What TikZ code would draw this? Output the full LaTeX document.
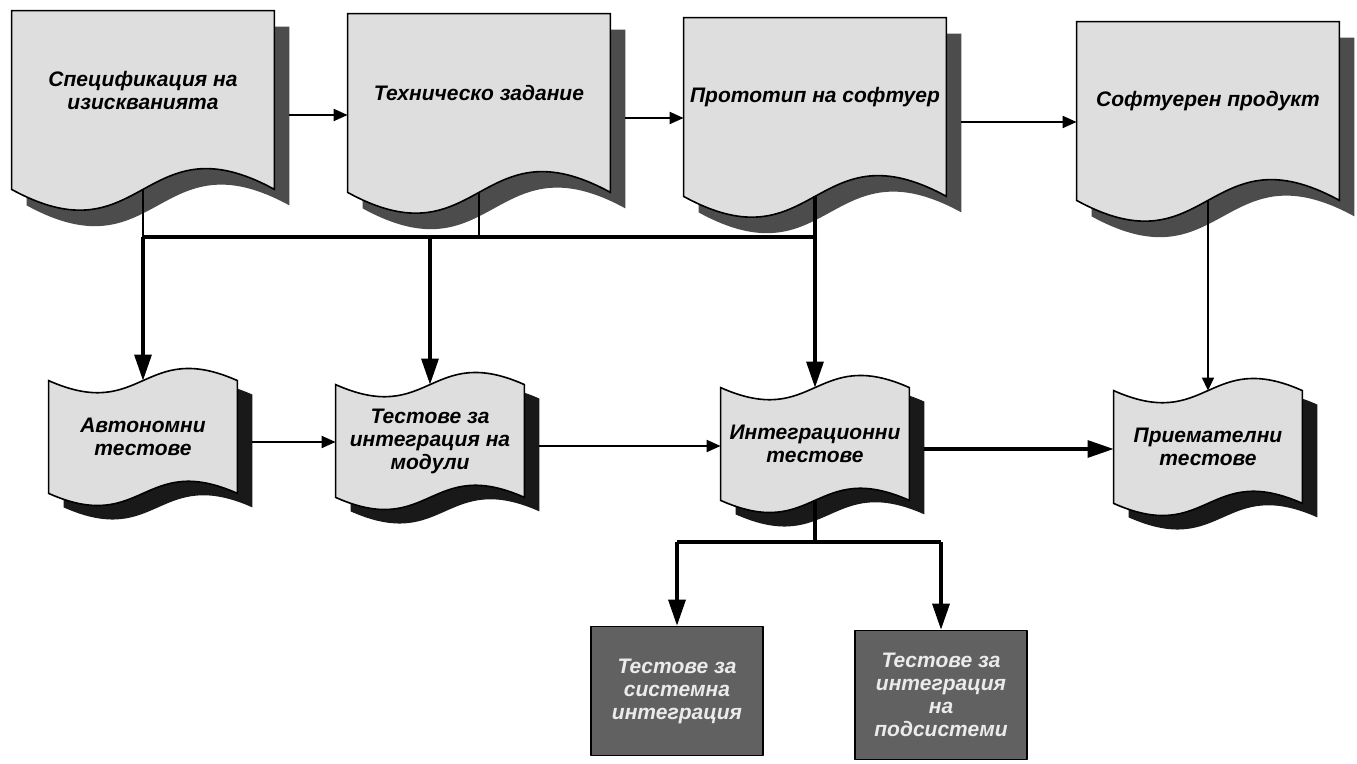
\documentclass[tikz,border=0pt]{standalone}
\usepackage{fontspec}
\setmainfont{Liberation Sans}
\usetikzlibrary{arrows.meta,calc,backgrounds}
\newcommand\docpath[4]{([shift={(#2,#3)}]#1.north west) -- ([shift={(#2,#3)}]#1.north east) -- ([shift={(#2,#3)}]#1.south east) .. controls ([shift={(#2,#3+#4)}]#1.south) and ([shift={(#2,#3-#4)}]#1.south) .. ([shift={(#2,#3)}]#1.south west) -- cycle}
\newcommand\tapepath[4]{([shift={(#2,#3)}]#1.north west) .. controls ([shift={(#2,#3-#4)}]#1.north) and ([shift={(#2,#3+#4)}]#1.north) .. ([shift={(#2,#3)}]#1.north east) -- ([shift={(#2,#3)}]#1.south east) .. controls ([shift={(#2,#3+#4)}]#1.south) and ([shift={(#2,#3-#4)}]#1.south) .. ([shift={(#2,#3)}]#1.south west) -- cycle}
\begin{document}
\begin{tikzpicture}[x=.5pt,y=.5pt,line join=round,
		font=\fontsize{10.5}{11.5}\selectfont\bfseries\itshape,
		docbox/.style={minimum width=131pt,minimum height=89pt,inner sep=0pt},
		tapebox/.style={minimum width=94pt,minimum height=56pt,inner sep=0pt,align=center},
		darkbox/.style={draw,line width=.8pt,fill=black!62,text=black!8,minimum width=86pt,minimum height=64.5pt,inner sep=0pt,align=center},
		toparr/.style={line width=1pt,-{Triangle[length=7pt,width=6pt]}},
		bigarr/.style={line width=1.6pt,-{Triangle[length=13pt,width=8.5pt]}},
		thinarr/.style={line width=.7pt,-{Triangle[length=6.5pt,width=6pt]}},
		bus/.style={line width=1.6pt}]
	\useasboundingbox (0,0) rectangle (1357,-764);
	\node[docbox,label={[align=center,yshift=5pt]center:Спецификация на\\изискванията}] (spec) at (143,-100) {};
	\node[docbox,label={[yshift=5pt]center:Техническо задание}] (tz) at (479,-103) {};
	\node[docbox,label={[yshift=5pt]center:Прототип на софтуер}] (proto) at (815,-107) {};
	\node[docbox,label={[yshift=5pt]center:Софтуерен продукт}] (prod) at (1208,-111) {};
	\node[tapebox] (auto) at (143,-437) {Автономни\\тестове};
	\node[tapebox] (modint) at (430,-441) {Тестове за\\интеграция на\\модули};
	\node[tapebox] (integ) at (815,-444) {Интеграционни\\тестове};
	\node[tapebox] (accept) at (1208,-447) {Приемателни\\тестове};
	\node[darkbox] (sysint) at (677,-691) {Тестове за\\системна\\интеграция};
	\node[darkbox] (subint) at (941,-695) {Тестове за\\интеграция\\на\\подсистеми};
	\begin{scope}[on background layer]
		\fill[white] (0,0) rectangle (1357,-764);
		\foreach \n in {spec,tz,proto,prod}{
			\fill[black!70] \docpath{\n}{15}{-16}{72};
			\draw[line width=.8pt,fill=black!13] \docpath{\n}{0}{0}{72};
		}
		\foreach \n in {auto,modint,integ,accept}{
			\fill[black!90] \tapepath{\n}{15}{-14}{42};
			\draw[line width=.8pt,fill=black!13] \tapepath{\n}{0}{0}{42};
		}
	\end{scope}
	\draw[toparr] ($(spec.east)+(15,-15)$) coordinate (o1) -- (o1 -| tz.west);
	\draw[toparr] ($(tz.east)+(15,-15)$) coordinate (o2) -- (o2 -| proto.west);
	\draw[toparr] ($(proto.east)+(15,-15)$) coordinate (o3) -- (o3 -| prod.west);
	\coordinate (b1) at (143,-237);
	\draw[line width=1pt] (spec.south) -- (b1) (tz.south) -- (tz.south |- b1);
	\draw[bus] (b1) -- (proto.south |- b1);
	\draw[bigarr] (b1) -- (auto.north);
	\draw[bigarr] (modint.north |- b1) -- (modint.north);
	\draw[bigarr] (proto.south) -- (integ.north);
	\draw[thinarr] (prod.south) -- (accept.north);
	\draw[toparr] ($(auto.east)+(15,-5)$) coordinate (o4) -- (o4 -| modint.west);
	\draw[toparr] ($(modint.east)+(15,-5)$) coordinate (o5) -- (o5 -| integ.west);
	\draw[bigarr] ($(integ.east)+(15,-5)$) coordinate (o6) -- (o6 -| accept.west);
	\coordinate (b2) at (815,-542);
	\draw[bus] (integ.south) -- (b2) (sysint.north |- b2) -- (subint.north |- b2);
	\draw[bigarr] (sysint.north |- b2) -- (sysint.north);
	\draw[bigarr] (subint.north |- b2) -- (subint.north);
\end{tikzpicture}
\end{document}
